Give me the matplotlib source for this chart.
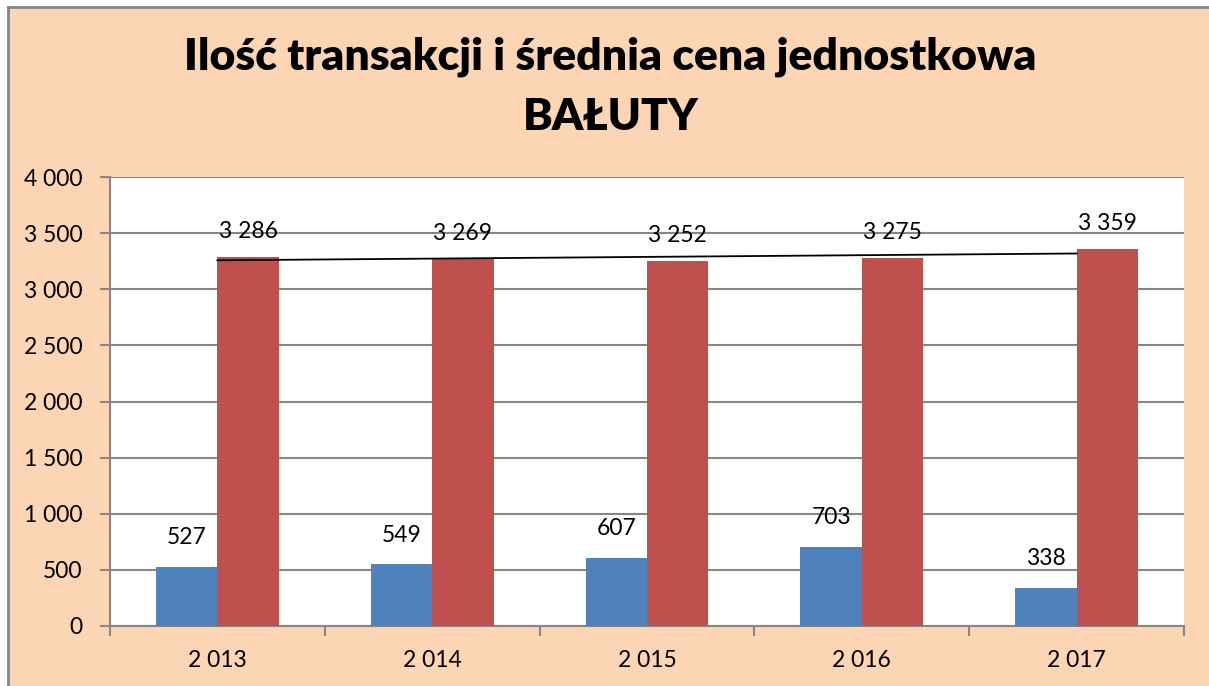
import numpy as np
import matplotlib
matplotlib.use("Agg")
import matplotlib.pyplot as plt
from matplotlib.patches import Rectangle
from matplotlib.lines import Line2D
from matplotlib.ticker import FuncFormatter, MultipleLocator

years = ["2 013", "2 014", "2 015", "2 016", "2 017"]
transakcje = [527, 549, 607, 703, 338]
cena = [3286, 3269, 3252, 3275, 3359]

PEACH = "#FCD5B5"
BLUE = "#4F81BD"
RED = "#C0504D"
GRID = "#868686"

plt.rcParams["font.family"] = ["Lato", "DejaVu Sans"]

W, H = 1209, 686
fig = plt.figure(figsize=(W / 100, H / 100), dpi=100, facecolor="white")

# tlo wykresu (kadr przyciety z prawej i od dolu)
x0, y0 = 8 / W, 7 / H
fig.patches.append(Rectangle((x0, 0), 1 - x0, 1 - y0, transform=fig.transFigure,
                             facecolor=PEACH, edgecolor="none", zorder=-5))
fig.lines.append(Line2D([x0, x0], [0, 1 - y0], transform=fig.transFigure, color=GRID, lw=2, zorder=-4))
fig.lines.append(Line2D([x0, 1], [1 - y0, 1 - y0], transform=fig.transFigure, color=GRID, lw=2, zorder=-4))

ax = fig.add_axes([110 / W, 1 - 626 / H, (1184 - 110) / W, (626 - 177) / H])
ax.set_facecolor("white")

x = np.arange(len(years))
w = 1 / 3.5
ax.bar(x - w / 2, transakcje, w, color=BLUE, zorder=3)
ax.bar(x + w / 2, cena, w, color=RED, zorder=3)

# linia trendu (liniowa) dla ceny
a, b = np.polyfit(x, cena, 1)
ax.plot(x, a * x + b, color="black", lw=1.3, zorder=4)

fmt = lambda v: f"{int(v):,}".replace(",", " ")
for i in range(len(years)):
    ax.text(x[i] - w / 2, transakcje[i] + 260, fmt(transakcje[i]), ha="center", va="center",
            fontsize=16.5, zorder=5)
    ax.text(x[i] + w / 2, cena[i] + 230, fmt(cena[i]), ha="center", va="center",
            fontsize=16.5, zorder=5)

ax.set_xlim(-0.5, len(years) - 0.5)
ax.set_ylim(0, 4000)
ax.yaxis.set_major_locator(MultipleLocator(500))
ax.yaxis.set_major_formatter(FuncFormatter(lambda v, p: fmt(v)))
ax.grid(axis="y", color=GRID, lw=1.5, zorder=1)
ax.set_axisbelow(True)

ax.set_xticks(np.arange(-0.5, len(years), 1.0))
ax.set_xticklabels([])
ax.set_xticks(x, minor=True)
ax.set_xticklabels(years, minor=True)
ax.tick_params(axis="x", which="major", length=7, width=1.5, color=GRID, direction="out")
ax.tick_params(axis="x", which="minor", length=0, labelsize=16.5, pad=17)
ax.tick_params(axis="y", length=7, width=1.5, color=GRID, labelsize=16.5, pad=13)

for s in ["top", "right"]:
    ax.spines[s].set_visible(False)
for s in ["left", "bottom"]:
    ax.spines[s].set_color(GRID)
    ax.spines[s].set_linewidth(1.5)

fig.text(0.505, 1 - 57 / H, "Ilość transakcji i średnia cena jednostkowa", ha="center", va="center",
         fontsize=32, fontweight="heavy")
fig.text(0.505, 1 - 117 / H, "BAŁUTY", ha="center", va="center", fontsize=32, fontweight="heavy")

fig.savefig("out.png", dpi=100, facecolor=fig.get_facecolor())
